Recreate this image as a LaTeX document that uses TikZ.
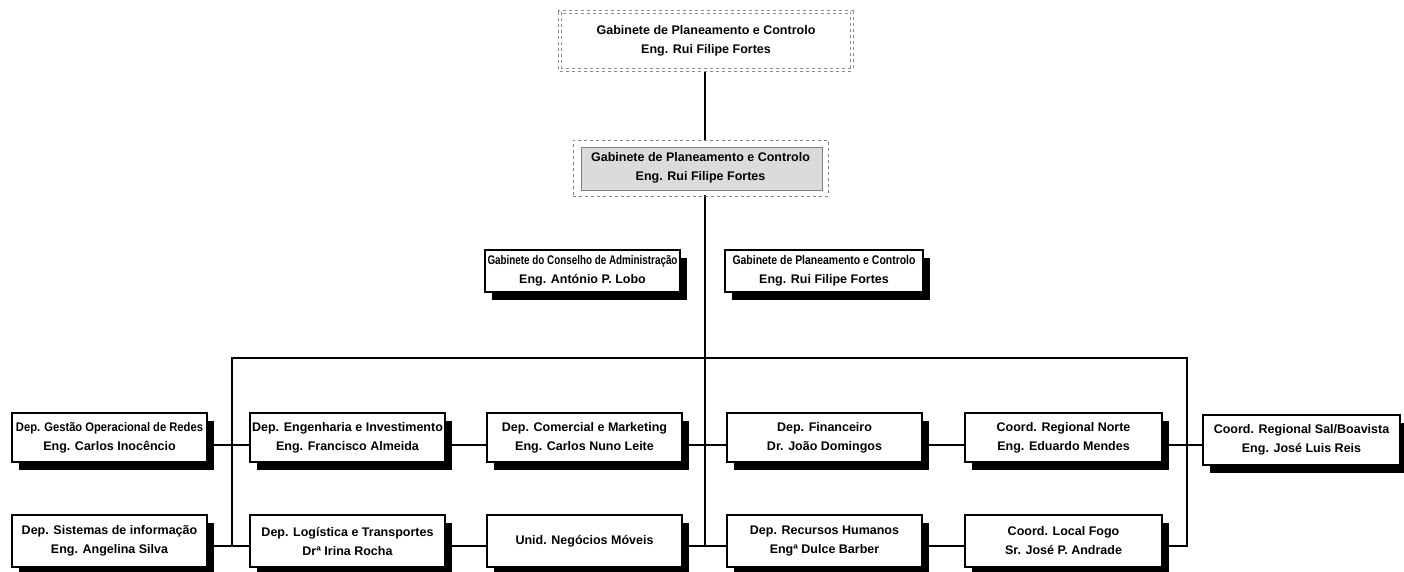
\documentclass[tikz,border=0pt]{standalone}
\usepackage{fontspec}
\setmainfont{Liberation Sans}
\usepackage{graphicx}
\usetikzlibrary{shadows,backgrounds}
\newcommand\condtxt[2]{\resizebox{#1}{\height}{#2}}
\tikzset{
  txt/.style={align=center, inner sep=0pt, font=\bfseries\fontsize{12.5pt}{19pt}\selectfont},
  org/.style={txt, draw=black, line width=1.4pt, fill=white,
    drop shadow={shadow xshift=7pt, shadow yshift=-8pt, fill=black, opacity=1}},
  topbox/.style={txt, draw=black!45, dashed, line width=0.8pt, double=white, double distance=1.6pt},
  shadedbox/.style={txt, draw=black!50, dashed, line width=0.8pt},
  link/.style={line width=2pt, line cap=rect},
}
\begin{document}
\begin{tikzpicture}[x=1pt,y=-1pt]
\useasboundingbox (0,0) rectangle (1404,572);

% top offices
\node[topbox, minimum width=292pt, minimum height=58pt] (g1) at (706,41)
  {Gabinete de Planeamento e Controlo\\Eng. Rui Filipe Fortes};
\node[shadedbox, minimum width=255pt, minimum height=56pt] (g2) at (700.5,168)
  {Gabinete de Planeamento e Controlo\\Eng. Rui Filipe Fortes};
\begin{scope}[on background layer]
  \fill[black!14] ([xshift=9pt,yshift=-8pt]g2.north west) rectangle ([xshift=-6pt,yshift=6pt]g2.south east);
  \draw[black!50, line width=0.6pt] ([xshift=9pt,yshift=-8pt]g2.north west) rectangle ([xshift=-6pt,yshift=6pt]g2.south east);
\end{scope}

% staff offices
\node[org, minimum width=195pt, minimum height=42pt] (m1) at (582.5,271)
  {\condtxt{190pt}{Gabinete do Conselho de Administração}\\Eng. António P. Lobo};
\node[org, minimum width=198pt, minimum height=42pt] (m2) at (824,271)
  {\condtxt{183pt}{Gabinete de Planeamento e Controlo}\\Eng. Rui Filipe Fortes};

% row 1
\node[org, minimum width=195pt, minimum height=49pt] (b1) at (109.5,437.5)
  {\condtxt{187pt}{Dep. Gestão Operacional de Redes}\\Eng. Carlos Inocêncio};
\node[org, minimum width=195pt, minimum height=49pt] (b2) at (347.5,437.5)
  {Dep. Engenharia e Investimento\\Eng. Francisco Almeida};
\node[org, minimum width=195pt, minimum height=49pt] (b3) at (584.5,437.5)
  {Dep. Comercial e Marketing\\Eng. Carlos Nuno Leite};
\node[org, minimum width=195pt, minimum height=49pt] (b4) at (824.5,437.5)
  {Dep. Financeiro\\Dr. João Domingos};
\node[org, minimum width=197pt, minimum height=49pt] (b5) at (1063.5,437.5)
  {Coord. Regional Norte\\Eng. Eduardo Mendes};
\node[org, minimum width=197pt, minimum height=50pt] (b6) at (1301.5,440)
  {Coord. Regional Sal/Boavista\\Eng. José Luis Reis};

% row 2
\node[org, minimum width=195pt, minimum height=52pt] (c1) at (109.5,541)
  {Dep. Sistemas de informação\\Eng. Angelina Silva};
\node[org, minimum width=195pt, minimum height=52pt] (c2) at (347.5,541)
  {Dep. Logística e Transportes\\Drª Irina Rocha};
\node[org, minimum width=195pt, minimum height=52pt] (c3) at (584.5,541)
  {Unid. Negócios Móveis};
\node[org, minimum width=195pt, minimum height=52pt] (c4) at (824.5,541)
  {Dep. Recursos Humanos\\Engª Dulce Barber};
\node[org, minimum width=197pt, minimum height=52pt] (c5) at (1063.5,541)
  {Coord. Local Fogo\\Sr. José P. Andrade};

% junction coordinates
\coordinate (busL) at (232,358);
\coordinate (busR) at (1187,358);
\coordinate (r1) at (0,445);
\coordinate (r2) at (0,546);
\coordinate (endL) at (232,546);
\coordinate (endM) at (705,546);
\coordinate (endR) at (1187,546);

\begin{scope}[on background layer]
  \draw[link] (g1.south -| endM) -- (g2.north -| endM);
  \draw[link] (g2.south -| endM) -- (endM);
  \draw[link] (endL) -- (busL) -- (busR) -- (endR);
  \draw[link] (c5.east |- endR) -- (endR);
  \draw[link] (b1.east |- r1) -- (b2.west |- r1);
  \draw[link] (b2.east |- r1) -- (b3.west |- r1);
  \draw[link] (b3.east |- r1) -- (b4.west |- r1);
  \draw[link] (b4.east |- r1) -- (b5.west |- r1);
  \draw[link] (b5.east |- r1) -- (b6.west |- r1);
  \draw[link] (c1.east |- r2) -- (c2.west |- r2);
  \draw[link] (c2.east |- r2) -- (c3.west |- r2);
  \draw[link] (c3.east |- r2) -- (c4.west |- r2);
  \draw[link] (c4.east |- r2) -- (c5.west |- r2);
\end{scope}
\end{tikzpicture}
\end{document}
